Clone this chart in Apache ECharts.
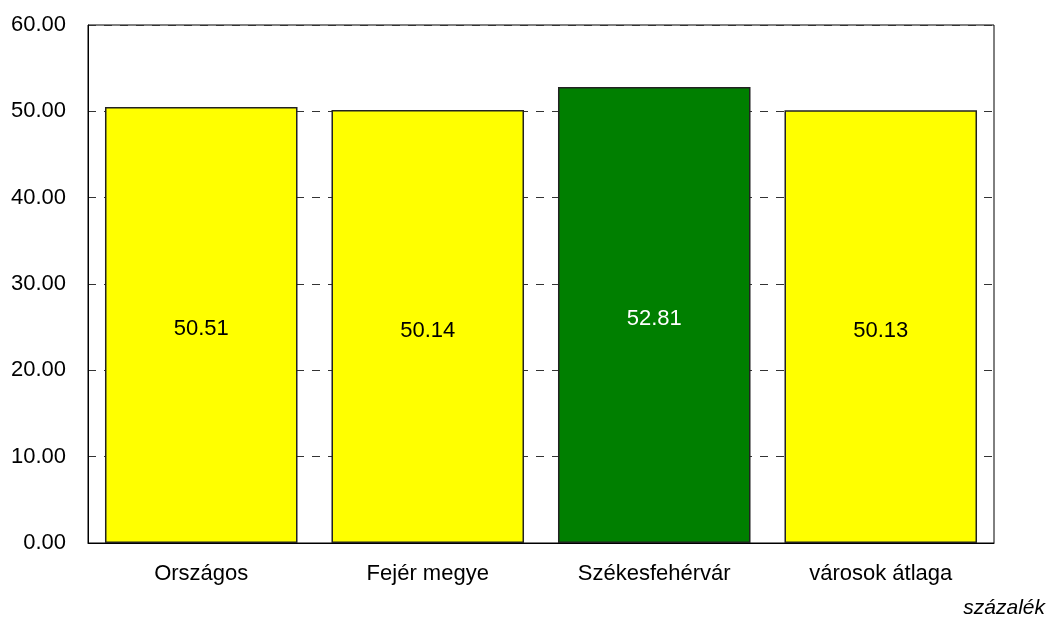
<!DOCTYPE html>
<html>
<head>
<meta charset="utf-8">
<script src="https://cdn.jsdelivr.net/npm/echarts@6/dist/echarts.min.js"></script>
<style>
  html, body { margin: 0; padding: 0; background: #fff; }
  #main { width: 1053px; height: 625px; }
</style>
</head>
<body>
<div id="main"></div>
<script>
// adatok
var categories = ['Országos', 'Fejér megye', 'Székesfehérvár', 'városok átlaga'];
var values = [50.51, 50.14, 52.81, 50.13];
var barColors = ['#ffff00', '#ffff00', '#007f00', '#ffff00'];
var labelColors = ['#000', '#000', '#fff', '#000'];

var myChart = echarts.init(document.getElementById('main'));
var font = 'Liberation Sans, Arial, sans-serif';

var option = {
    animation: false,
    grid: {
        left: 88,
        right: 59,
        top: 25,
        bottom: 82,
        show: true,
        borderColor: '#000',
        borderWidth: 1,
        containLabel: false
    },
    xAxis: {
        type: 'category',
        data: categories,
        axisLine: { show: true, lineStyle: { color: '#000' } },
        axisTick: { show: false },
        axisLabel: { color: '#000', fontSize: 22, fontFamily: font, margin: 20 }
    },
    yAxis: {
        type: 'value',
        min: 0,
        max: 60,
        interval: 10,
        axisLine: { show: true, lineStyle: { color: '#000' } },
        axisTick: { show: false },
        axisLabel: {
            color: '#000', fontSize: 22, fontFamily: font, margin: 22,
            formatter: function (v) { return v.toFixed(2); }
        },
        splitLine: {
            show: true,
            lineStyle: { color: '#333', type: [8, 8], width: 1 }
        }
    },
    graphic: [{
        type: 'text',
        right: 8,
        bottom: 6,
        style: { text: 'százalék', font: 'italic 21px ' + font, fill: '#000' }
    }],
    series: [{
        type: 'bar',
        barCategoryGap: '15%',
        data: values.map(function (v, i) {
            return {
                value: v,
                itemStyle: { color: barColors[i], borderColor: '#222', borderWidth: 1.5 },
                label: { color: labelColors[i] }
            };
        }),
        label: {
            show: true,
            position: 'inside',
            offset: [0, 4],
            fontSize: 22,
            fontFamily: font,
            formatter: function (p) { return p.value.toFixed(2); }
        }
    }]
};
myChart.setOption(option);
</script>
</body>
</html>
